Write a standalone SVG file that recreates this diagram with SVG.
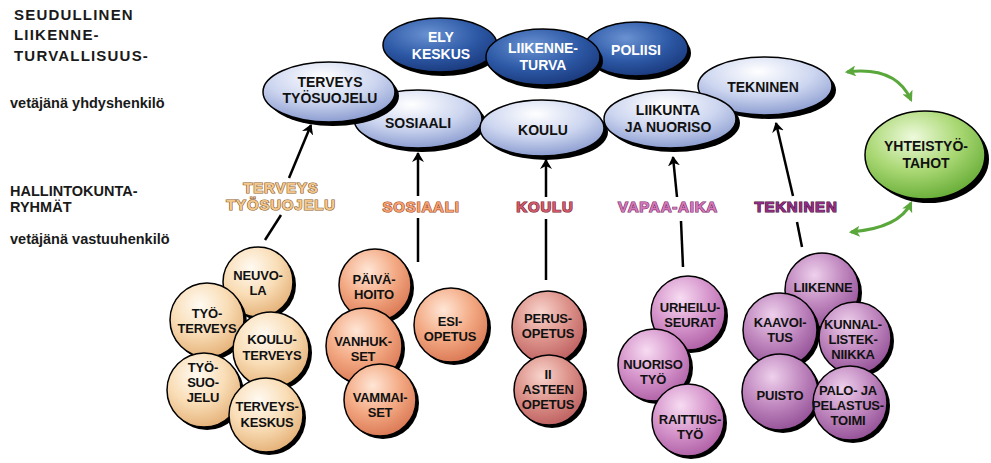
<svg xmlns="http://www.w3.org/2000/svg" width="991" height="463" viewBox="0 0 991 463">
<defs>
<radialGradient id="gDark" cx="40%" cy="30%" r="70%"><stop offset="0" stop-color="#6a92d2"/><stop offset="0.6" stop-color="#2d59a6"/><stop offset="1" stop-color="#1c3c80"/></radialGradient>
<radialGradient id="gLight" cx="45%" cy="25%" r="75%"><stop offset="0" stop-color="#ffffff"/><stop offset="0.55" stop-color="#cdd6f0"/><stop offset="1" stop-color="#8c9dd0"/></radialGradient>
<radialGradient id="gPeach" cx="40%" cy="30%" r="70%"><stop offset="0" stop-color="#fffaf2"/><stop offset="0.55" stop-color="#f9ddb6"/><stop offset="1" stop-color="#e6b47c"/></radialGradient>
<radialGradient id="gSalmon" cx="40%" cy="30%" r="70%"><stop offset="0" stop-color="#ffe6d6"/><stop offset="0.55" stop-color="#f3aa84"/><stop offset="1" stop-color="#dc7c58"/></radialGradient>
<radialGradient id="gRose" cx="40%" cy="30%" r="70%"><stop offset="0" stop-color="#f8d4cc"/><stop offset="0.55" stop-color="#dc928a"/><stop offset="1" stop-color="#c06464"/></radialGradient>
<radialGradient id="gPink" cx="40%" cy="30%" r="70%"><stop offset="0" stop-color="#f7dcf2"/><stop offset="0.55" stop-color="#d696cc"/><stop offset="1" stop-color="#b264a8"/></radialGradient>
<radialGradient id="gPurple" cx="40%" cy="30%" r="70%"><stop offset="0" stop-color="#eed0ec"/><stop offset="0.55" stop-color="#c088bf"/><stop offset="1" stop-color="#97559a"/></radialGradient>
<radialGradient id="gGreen" cx="40%" cy="30%" r="70%"><stop offset="0" stop-color="#eefadc"/><stop offset="0.55" stop-color="#aad874"/><stop offset="1" stop-color="#6cb03c"/></radialGradient>
<marker id="ah" viewBox="0 0 10 12" refX="9" refY="6" markerWidth="10" markerHeight="12" markerUnits="userSpaceOnUse" orient="auto"><path d="M0,0 L10,6 L0,12 L3,6 Z" fill="#000"/></marker>
<marker id="gh" viewBox="0 0 10 10" refX="8" refY="5" markerWidth="11" markerHeight="11" markerUnits="userSpaceOnUse" orient="auto-start-reverse"><path d="M0,0 L10,5 L0,10 L2.5,5 Z" fill="#5aa83c"/></marker>
</defs>
<style>
.sh{fill:#000}
.ol{stroke:#000;stroke-width:1.5}
.t{font-family:"Liberation Sans",Arial,sans-serif;font-weight:bold;text-anchor:middle;fill:#111}
.tc{font-size:13px;letter-spacing:-0.2px}
.te{font-size:14px}
.tw{fill:#fff;font-size:14px}
.side{font-family:"Liberation Sans",Arial,sans-serif;font-weight:bold;fill:#1a1a1a}
.lab{font-family:"Liberation Sans",Arial,sans-serif;font-weight:bold;font-size:15px;text-anchor:middle;letter-spacing:0.8px;stroke-width:1.2px;paint-order:stroke}
.ln{stroke:#000;stroke-width:2.5;fill:none}
.gl{stroke:#5aa83c;stroke-width:3;fill:none}
</style>

<g id="side-texts">
<text class="side" x="14" y="20" font-size="15" letter-spacing="1.2">SEUDULLINEN</text>
<text class="side" x="14" y="40" font-size="15" letter-spacing="1.2">LIIKENNE-</text>
<text class="side" x="14" y="61" font-size="15" letter-spacing="1.2">TURVALLISUUS-</text>
<text class="side" x="10" y="108" font-size="14.5" fill="#333">vetäjänä yhdyshenkilö</text>
<text class="side" x="10" y="196" font-size="14.5">HALLINTOKUNTA-</text>
<text class="side" x="10" y="212" font-size="14.5">RYHMÄT</text>
<text class="side" x="10" y="244" font-size="14.5" fill="#333">vetäjänä vastuuhenkilö</text>
</g>

<g id="connectors">
<path class="ln" d="M265,240 L281,215"/>
<path class="ln" d="M289,178 L311,125" marker-end="url(#ah)"/>
<path class="ln" d="M418,262 L418,218"/>
<path class="ln" d="M418,196 L418,153" marker-end="url(#ah)"/>
<path class="ln" d="M546,280 L546,219"/>
<path class="ln" d="M546,197 L546,160" marker-end="url(#ah)"/>
<path class="ln" d="M683,267 L681,221"/>
<path class="ln" d="M677,197 L673,157" marker-end="url(#ah)"/>
<path class="ln" d="M802,247 L797,222"/>
<path class="ln" d="M793,196 L776,123" marker-end="url(#ah)"/>
<path class="gl" d="M847,72 Q896,66 911,100" marker-start="url(#gh)" marker-end="url(#gh)"/>
<path class="gl" d="M911,203 Q899,228 851,232" marker-start="url(#gh)" marker-end="url(#gh)"/>
</g>

<g id="group-labels">
<text class="lab" x="281" y="193" fill="#f3c88c" stroke="#8a5a28">TERVEYS</text>
<text class="lab" x="281" y="210" fill="#f3c88c" stroke="#8a5a28">TYÖSUOJELU</text>
<text class="lab" x="421" y="212" fill="#f4a070" stroke="#a04a28">SOSIAALI</text>
<text class="lab" x="545" y="212" fill="#cc5a6a" stroke="#7a2030">KOULU</text>
<text class="lab" x="668" y="212" fill="#d276b6" stroke="#7a2a6a">VAPAA-AIKA</text>
<text class="lab" x="796" y="212" fill="#8e2e80" stroke="#4a1040">TEKNINEN</text>
</g>

<g id="ely">
<ellipse class="sh" cx="443" cy="49" rx="57" ry="27"/>
<ellipse cx="440" cy="45" rx="57" ry="27" fill="url(#gDark)" class="ol"/>
<text class="t tw" x="441" y="42">ELY</text>
<text class="t tw" x="441" y="59">KESKUS</text>
</g>
<g id="poliisi">
<ellipse class="sh" cx="639" cy="53" rx="52" ry="27"/>
<ellipse cx="636" cy="49" rx="52" ry="27" fill="url(#gDark)" class="ol"/>
<text class="t tw" x="636" y="55">POLIISI</text>
</g>
<g id="liikenneturva">
<ellipse class="sh" cx="546" cy="61" rx="57" ry="28"/>
<ellipse cx="543" cy="57" rx="57" ry="28" fill="url(#gDark)" class="ol"/>
<text class="t tw" x="543" y="53">LIIKENNE-</text>
<text class="t tw" x="543" y="70">TURVA</text>
</g>

<g id="tekninen-top">
<ellipse class="sh" cx="769" cy="90" rx="67" ry="29"/>
<ellipse cx="765" cy="86" rx="67" ry="29" fill="url(#gLight)" class="ol"/>
<text class="t te" x="763" y="92">TEKNINEN</text>
</g>
<g id="sosiaali-top">
<ellipse class="sh" cx="422" cy="123" rx="64" ry="29"/>
<ellipse cx="418" cy="119" rx="64" ry="29" fill="url(#gLight)" class="ol"/>
<text class="t te" x="418" y="128">SOSIAALI</text>
</g>
<g id="koulu-top">
<ellipse class="sh" cx="546" cy="132" rx="62" ry="28"/>
<ellipse cx="542" cy="128" rx="62" ry="28" fill="url(#gLight)" class="ol"/>
<text class="t te" x="543" y="135">KOULU</text>
</g>
<g id="liikunta-top">
<ellipse class="sh" cx="674" cy="123" rx="66" ry="29"/>
<ellipse cx="670" cy="119" rx="66" ry="29" fill="url(#gLight)" class="ol"/>
<text class="t te" x="668" y="115">LIIKUNTA</text>
<text class="t te" x="668" y="132">JA NUORISO</text>
</g>
<g id="terveys-top">
<ellipse class="sh" cx="333" cy="96" rx="66" ry="30"/>
<ellipse cx="329" cy="92" rx="66" ry="30" fill="url(#gLight)" class="ol"/>
<text class="t te" x="330" y="87">TERVEYS</text>
<text class="t te" x="330" y="103">TYÖSUOJELU</text>
</g>

<g id="yhteistyotahot">
<ellipse class="sh" cx="929" cy="159" rx="60" ry="44"/>
<ellipse cx="925" cy="155" rx="60" ry="44" fill="url(#gGreen)" class="ol"/>
<text class="t te" x="926" y="151">YHTEISTYÖ-</text>
<text class="t te" x="926" y="168">TAHOT</text>
</g>

<g id="neuvola">
<circle class="sh" cx="261" cy="285" r="35"/>
<circle cx="258" cy="282" r="35" fill="url(#gPeach)" class="ol"/>
<text class="t tc" x="258" y="280">NEUVO-</text>
<text class="t tc" x="258" y="295">LA</text>
</g>
<g id="tyoterveys">
<circle class="sh" cx="210" cy="323" r="37"/>
<circle cx="207" cy="320" r="37" fill="url(#gPeach)" class="ol"/>
<text class="t tc" x="207" y="318">TYÖ-</text>
<text class="t tc" x="207" y="333">TERVEYS</text>
</g>
<g id="kouluterveys">
<circle class="sh" cx="274" cy="353" r="38"/>
<circle cx="271" cy="350" r="38" fill="url(#gPeach)" class="ol"/>
<text class="t tc" x="272" y="344">KOULU-</text>
<text class="t tc" x="272" y="360">TERVEYS</text>
</g>
<g id="tyosuojelu">
<circle class="sh" cx="207" cy="393" r="37"/>
<circle cx="204" cy="390" r="37" fill="url(#gPeach)" class="ol"/>
<text class="t tc" x="203" y="372">TYÖ-</text>
<text class="t tc" x="203" y="387">SUO-</text>
<text class="t tc" x="203" y="402">JELU</text>
</g>
<g id="terveyskeskus">
<circle class="sh" cx="269" cy="418" r="37"/>
<circle cx="266" cy="415" r="37" fill="url(#gPeach)" class="ol"/>
<text class="t tc" x="267" y="411">TERVEYS-</text>
<text class="t tc" x="267" y="427">KESKUS</text>
</g>

<g id="paivahoito">
<circle class="sh" cx="378" cy="288" r="36"/>
<circle cx="375" cy="285" r="36" fill="url(#gSalmon)" class="ol"/>
<text class="t tc" x="374" y="284">PÄIVÄ-</text>
<text class="t tc" x="374" y="299">HOITO</text>
</g>
<g id="esiopetus">
<circle class="sh" cx="454" cy="328" r="37"/>
<circle cx="451" cy="325" r="37" fill="url(#gSalmon)" class="ol"/>
<text class="t tc" x="450" y="326">ESI-</text>
<text class="t tc" x="450" y="341">OPETUS</text>
</g>
<g id="vanhukset">
<circle class="sh" cx="367" cy="349" r="38"/>
<circle cx="364" cy="346" r="38" fill="url(#gSalmon)" class="ol"/>
<text class="t tc" x="363" y="346">VANHUK-</text>
<text class="t tc" x="363" y="361">SET</text>
</g>
<g id="vammaiset">
<circle class="sh" cx="383" cy="403" r="36"/>
<circle cx="380" cy="400" r="36" fill="url(#gSalmon)" class="ol"/>
<text class="t tc" x="380" y="402">VAMMAI-</text>
<text class="t tc" x="380" y="417">SET</text>
</g>

<g id="perusopetus">
<circle class="sh" cx="551" cy="330" r="36"/>
<circle cx="548" cy="327" r="36" fill="url(#gRose)" class="ol"/>
<text class="t tc" x="548" y="323">PERUS-</text>
<text class="t tc" x="548" y="338">OPETUS</text>
</g>
<g id="iiasteen">
<circle class="sh" cx="552" cy="393" r="35"/>
<circle cx="549" cy="390" r="35" fill="url(#gRose)" class="ol"/>
<text class="t tc" x="548" y="379">II</text>
<text class="t tc" x="548" y="394">ASTEEN</text>
<text class="t tc" x="548" y="409">OPETUS</text>
</g>

<g id="urheiluseurat">
<circle class="sh" cx="691" cy="316" r="37"/>
<circle cx="688" cy="313" r="37" fill="url(#gPink)" class="ol"/>
<text class="t tc" x="690" y="312">URHEILU-</text>
<text class="t tc" x="690" y="327">SEURAT</text>
</g>
<g id="nuorisotyo">
<circle class="sh" cx="657" cy="368" r="36"/>
<circle cx="654" cy="365" r="36" fill="url(#gPink)" class="ol"/>
<text class="t tc" x="653" y="369">NUORISO</text>
<text class="t tc" x="653" y="384">TYÖ</text>
</g>
<g id="raittiustyo">
<circle class="sh" cx="691" cy="423" r="36"/>
<circle cx="688" cy="420" r="36" fill="url(#gPink)" class="ol"/>
<text class="t tc" x="690" y="424">RAITTIUS-</text>
<text class="t tc" x="690" y="439">TYÖ</text>
</g>

<g id="liikenne">
<circle class="sh" cx="825" cy="293" r="37"/>
<circle cx="822" cy="290" r="37" fill="url(#gPurple)" class="ol"/>
<text class="t tc" x="823" y="292">LIIKENNE</text>
</g>
<g id="kaavoitus">
<circle class="sh" cx="783" cy="333" r="37"/>
<circle cx="780" cy="330" r="37" fill="url(#gPurple)" class="ol"/>
<text class="t tc" x="780" y="327">KAAVOI-</text>
<text class="t tc" x="780" y="342">TUS</text>
</g>
<g id="kunnallistekniikka">
<circle class="sh" cx="858" cy="341" r="36"/>
<circle cx="855" cy="338" r="36" fill="url(#gPurple)" class="ol"/>
<text class="t tc" x="853" y="329">KUNNAL-</text>
<text class="t tc" x="853" y="344">LISTEK-</text>
<text class="t tc" x="853" y="359">NIIKKA</text>
</g>
<g id="puisto">
<circle class="sh" cx="783" cy="395" r="38"/>
<circle cx="780" cy="392" r="38" fill="url(#gPurple)" class="ol"/>
<text class="t tc" x="780" y="400">PUISTO</text>
</g>
<g id="palojapelastustoimi">
<circle class="sh" cx="853" cy="406" r="37"/>
<circle cx="850" cy="403" r="37" fill="url(#gPurple)" class="ol"/>
<text class="t tc" x="848" y="395">PALO- JA</text>
<text class="t tc" x="848" y="410">PELASTUS-</text>
<text class="t tc" x="848" y="425">TOIMI</text>
</g>
</svg>
